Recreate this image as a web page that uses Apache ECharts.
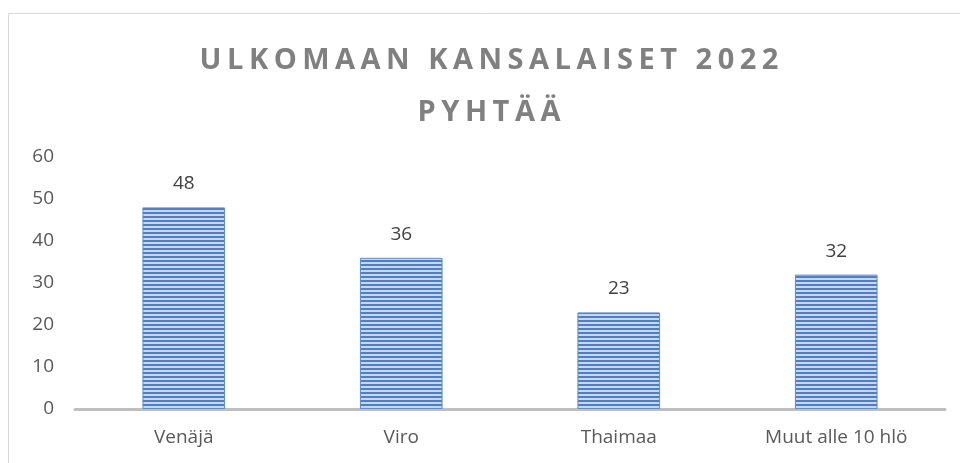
<!DOCTYPE html>
<html>
<head>
  <meta charset="utf-8">
  <script src="https://cdn.jsdelivr.net/npm/echarts@6.0.0/dist/echarts.min.js"></script>
  <style>
    body { margin: 0; padding: 0; background: #fff; }
    #chart { width: 960px; height: 463px; }
  </style>
</head>
<body>
  <div id="chart"></div>
  <script>
    const categories = ['Venäjä', 'Viro', 'Thaimaa', 'Muut alle 10 hlö'];
    const values = [48, 36, 23, 32];
    const yTicks = [0, 10, 20, 30, 40, 50, 60];
    const titleLines = ['ULKOMAAN KANSALAISET 2022', 'PYHTÄÄ'];

    // otsikon harva kirjainväli (ECharts ei tue letterSpacingia)
    const spacing = 5.5;
    const titleShift = 9;
    const origFillText = CanvasRenderingContext2D.prototype.fillText;
    CanvasRenderingContext2D.prototype.fillText = function (t, x, y, maxW) {
      if (titleLines.indexOf(t) < 0) {
        return origFillText.apply(this, arguments);
      }
      const extra = t.length * spacing;
      let dx = 0;
      if (this.textAlign === 'left' || this.textAlign === 'start') dx = -extra / 2;
      else if (this.textAlign === 'right' || this.textAlign === 'end') dx = extra / 2;
      dx += spacing / 2 + titleShift;
      this.save();
      this.letterSpacing = spacing + 'px';
      origFillText.call(this, t, x + dx, y);
      this.restore();
    };

    // raidoitettu täyttö pylväille
    const stripe = document.createElement('canvas');
    stripe.width = 4;
    stripe.height = 4;
    const ctx = stripe.getContext('2d');
    ctx.fillStyle = '#c6d7ee';
    ctx.fillRect(0, 0, 4, 4);
    ctx.fillStyle = '#4f7ec2';
    ctx.fillRect(0, 0, 4, 2);

    const chart = echarts.init(document.getElementById('chart'));
    chart.setOption({
      backgroundColor: '#fff',
      animation: false,
      title: {
        text: titleLines.join('\n'),
        left: 'center',
        top: 30,
        textStyle: {
          fontFamily: 'Open Sans',
          fontWeight: 'bold',
          fontSize: 29,
          lineHeight: 52,
          color: '#808080'
        }
      },
      graphic: [{
        type: 'rect',
        shape: { x: 8.5, y: 13.5, width: 990, height: 500 },
        style: { fill: 'none', stroke: '#d9d9d9', lineWidth: 1 },
        silent: true
      }],
      grid: { left: 75, right: 15, top: 157, bottom: 54 },
      xAxis: {
        type: 'category',
        data: categories,
        axisLine: { lineStyle: { color: '#bfbfbf', width: 3 } },
        axisTick: { show: false },
        axisLabel: { fontSize: 19, color: '#595959', fontFamily: 'Open Sans', margin: 19 }
      },
      yAxis: {
        type: 'value',
        min: yTicks[0],
        max: yTicks[yTicks.length - 1],
        interval: 10,
        axisLine: { show: false },
        axisTick: { show: false },
        splitLine: { show: false },
        axisLabel: { fontSize: 19, color: '#595959', fontFamily: 'Open Sans', margin: 21 }
      },
      series: [{
        type: 'bar',
        data: values,
        barWidth: '38%',
        itemStyle: {
          color: { image: stripe, repeat: 'repeat' },
          borderColor: '#5f8bca',
          borderWidth: 1
        },
        label: {
          show: true,
          position: 'top',
          distance: 14,
          fontSize: 19,
          color: '#404040',
          fontFamily: 'Open Sans'
        }
      }]
    });
  </script>
</body>
</html>
